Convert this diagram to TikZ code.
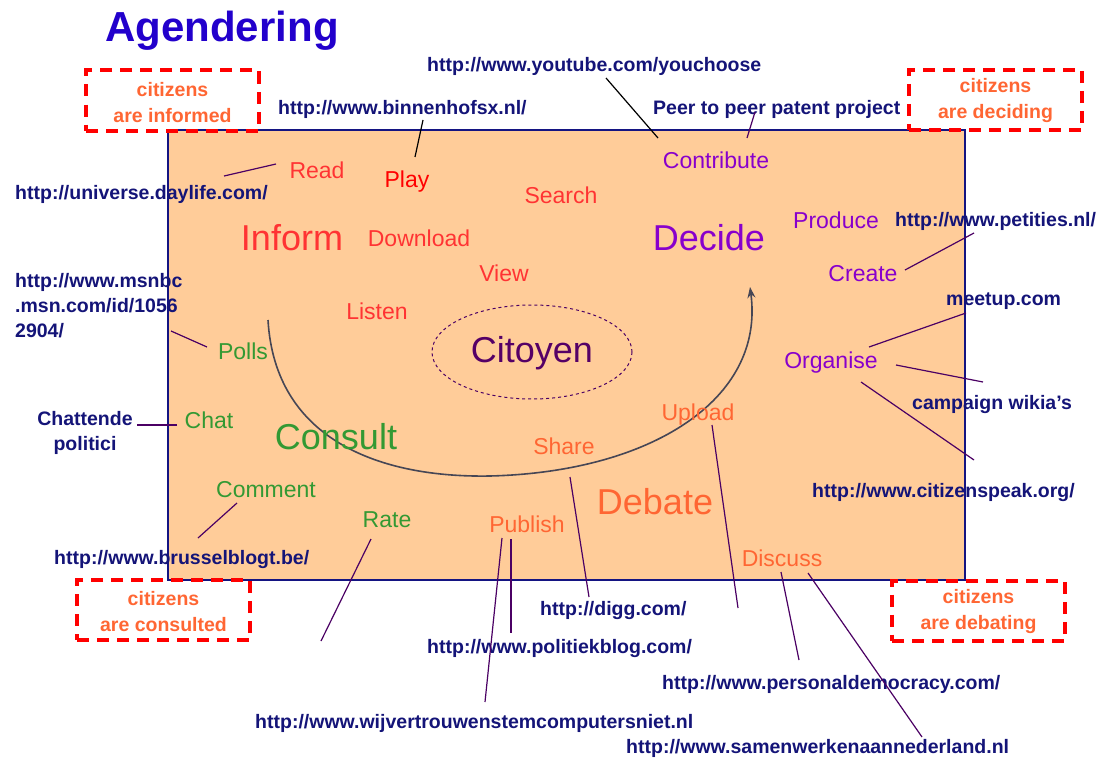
\documentclass[tikz,border=0pt]{standalone}
\usepackage{fontspec}
\setmainfont{Liberation Sans}
\usetikzlibrary{arrows.meta}
\definecolor{urlc}{RGB}{20,20,120}
\definecolor{titlec}{RGB}{34,0,204}
\definecolor{peach}{RGB}{255,204,153}
\definecolor{infc}{RGB}{255,51,51}
\definecolor{decc}{RGB}{136,0,204}
\definecolor{consc}{RGB}{51,153,51}
\definecolor{debc}{RGB}{255,102,51}
\definecolor{citc}{RGB}{85,0,102}
\definecolor{linkc}{RGB}{75,0,100}
\definecolor{arcc}{RGB}{70,70,85}
\definecolor{framec}{RGB}{20,20,130}
\tikzset{
  word/.style={font=\fontsize{23}{27}\selectfont, inner sep=0pt, text height=16.5pt, text depth=0pt},
  bigword/.style={font=\fontsize{36}{42}\selectfont, inner sep=0pt, text height=25.8pt, text depth=0pt},
  urltext/.style={font=\fontsize{19.5}{25}\selectfont\bfseries, text=urlc, inner sep=0pt, text height=14pt, text depth=0pt, anchor=west},
  urlblock/.style={font=\fontsize{19.5}{25}\selectfont\bfseries, text=urlc, inner sep=0pt},
  citbox/.style={draw=red, line width=4pt, dash pattern=on 12pt off 8pt,
     inner sep=0pt, minimum width=173pt, minimum height=60pt},
  cittext/.style={text=debc, font=\fontsize{19.5}{26}\selectfont\bfseries, align=center, inner sep=0pt},
  link/.style={draw=linkc, line width=1.2pt},
  blink/.style={draw=black, line width=1.2pt},
}
\begin{document}
\begin{tikzpicture}[x=1pt,y=-1pt]
\fill[white] (0,0) rectangle (1114,760);
\useasboundingbox (0,0) rectangle (1114,760);
% main panel
\fill[peach] (168,130) rectangle (965,580);
\draw[framec, line width=1.2pt] (168,130) rectangle (965,580);

% title
\node[font=\fontsize{42}{48}\selectfont\bfseries, text=titlec, inner sep=0pt, anchor=base] (title) at (222,42) {Agendering};

% citizens boxes
\node[citbox] (binf) at (172.5,100.5) {};
\node[citbox] (bdec) at (995.5,100) {};
\node[citbox] (bcon) at (163.5,610) {};
\node[citbox] (bdeb) at (978.5,610.5) {};
\node[cittext] (tinf) at ([yshift=-2pt]binf.center) {citizens\\are informed};
\node[cittext] (tdec) at ([yshift=-1pt]bdec.center) {citizens\\are deciding};
\node[cittext] (tcon) at ([yshift=-2pt]bcon.center) {citizens\\are consulted};
\node[cittext] (tdeb) at ([yshift=-1pt]bdeb.center) {citizens\\are debating};

% citoyen ellipse
\draw[linkc, line width=1pt, dash pattern=on 3pt off 3pt] (532,352) ellipse [x radius=100, y radius=47];

% arc arrow
\draw[arcc, line width=1.6pt, -{Stealth[length=11pt,width=8pt]}]
  (268,320) .. controls (275,440) and (380,478) .. (490,476)
            .. controls (650,472) and (765,400) .. (750,287);

% big words
\node[bigword, text=infc] (inform) at (292,238) {Inform};
\node[bigword, text=decc] (decide) at (709,238) {Decide};
\node[bigword, text=citc] (citoyen) at (532,350) {Citoyen};
\node[bigword, text=consc] (consult) at (336,437) {Consult};
\node[bigword, text=debc] (debate) at (655,502) {Debate};

% small words
\node[word, text=infc] (read) at (317,170) {Read};
\node[word, text=red] (play) at (407,179) {Play};
\node[word, text=infc] (search) at (561,195) {Search};
\node[word, text=infc] (download) at (419,238) {Download};
\node[word, text=infc] (view) at (504,273) {View};
\node[word, text=infc] (listen) at (377,311) {Listen};
\node[word, text=decc] (contribute) at (716,160) {Contribute};
\node[word, text=decc] (produce) at (836,220) {Produce};
\node[word, text=decc] (create) at (863,273) {Create};
\node[word, text=decc] (organise) at (831,360) {Organise};
\node[word, text=consc] (polls) at (243,351) {Polls};
\node[word, text=consc] (chat) at (209,420) {Chat};
\node[word, text=consc] (comment) at (266,489) {Comment};
\node[word, text=consc] (rate) at (387,519) {Rate};
\node[word, text=debc] (upload) at (698,412) {Upload};
\node[word, text=debc] (share) at (564,446) {Share};
\node[word, text=debc] (publish) at (527,524) {Publish};
\node[word, text=debc] (discuss) at (782,558) {Discuss};

% url texts
\node[urltext] (youtube) at (427,64) {http://www.youtube.com/youchoose};
\node[urltext] (binnenhof) at (278,107) {http://www.binnenhofsx.nl/};
\node[urltext] (peer) at (653,107) {Peer to peer patent project};
\node[urltext] (daylife) at (15,192) {http://universe.daylife.com/};
\node[urltext] (petities) at (895,219) {http://www.petities.nl/};
\node[urlblock, align=left, anchor=north west] (msnbc) at (15,273) {http://www.msnbc\\.msn.com/id/1056\\2904/};
\node[urltext] (meetup) at (946,298) {meetup.com};
\node[urltext] (wikia) at (912,402) {campaign wikia’s};
\node[urlblock, align=center] (chattende) at (85,433) {Chattende\\politici};
\node[urltext] (citizenspeak) at (812,490) {http://www.citizenspeak.org/};
\node[urltext] (brussel) at (54,557) {http://www.brusselblogt.be/};
\node[urltext] (digg) at (540,608) {http://digg.com/};
\node[urltext] (politiek) at (427,646) {http://www.politiekblog.com/};
\node[urltext] (personal) at (662,682) {http://www.personaldemocracy.com/};
\node[urltext] (wij) at (255,721) {http://www.wijvertrouwenstemcomputersniet.nl};
\node[urltext] (samen) at (626,746) {http://www.samenwerkenaannederland.nl};

% free ends
\coordinate (uploadend) at (738,608);
\coordinate (rateend) at (321,641);

% connectors
\draw[link] ([shift={(-41,-6)}]read.center) -- ([shift={(209,-16)}]daylife.west);
\draw[blink] ([shift={(8,-22)}]play.center) -- ([shift={(145,13)}]binnenhof.west);
\draw[blink] ([shift={(-58,-22)}]contribute.center) -- ([shift={(179,14)}]youtube.west);
\draw[link] ([shift={(31,-22)}]contribute.center) -- ([shift={(102,5)}]peer.west);
\draw[link] ([shift={(42,-3)}]create.center) -- ([shift={(79,14)}]petities.west);
\draw[link] ([shift={(38,-13)}]organise.center) -- ([shift={(20,15)}]meetup.west);
\draw[link] ([shift={(65,5)}]organise.center) -- ([shift={(71,-20)}]wikia.west);
\draw[link] ([shift={(30,22)}]organise.center) -- ([shift={(162,-30)}]citizenspeak.west);
\draw[link] ([shift={(14,13)}]upload.center) -- (uploadend);
\draw[link] ([shift={(6,31)}]share.center) -- ([shift={(49,-11)}]digg.west);
\draw[link] ([shift={(-1,14)}]discuss.center) -- ([shift={(137,-22)}]personal.west);
\draw[link] ([shift={(26,15)}]discuss.center) -- ([shift={(296,-9)}]samen.west);
\draw[link] ([shift={(-25,14)}]publish.center) -- ([shift={(230,-19)}]wij.west);
\draw[link] ([shift={(-16,15)}]publish.center) -- ([shift={(84,-13)}]politiek.west);
\draw[link] ([shift={(-16,20)}]rate.center) -- (rateend);
\draw[link] ([shift={(-29,14)}]comment.center) -- ([shift={(144,-19)}]brussel.west);
\draw[link] ([shift={(-36,-4)}]polls.center) -- ([shift={(156,58)}]msnbc.north west);
\draw[link] ([shift={(-32,5)}]chat.center) -- ([shift={(52,-8)}]chattende.center);
\end{tikzpicture}
\end{document}
